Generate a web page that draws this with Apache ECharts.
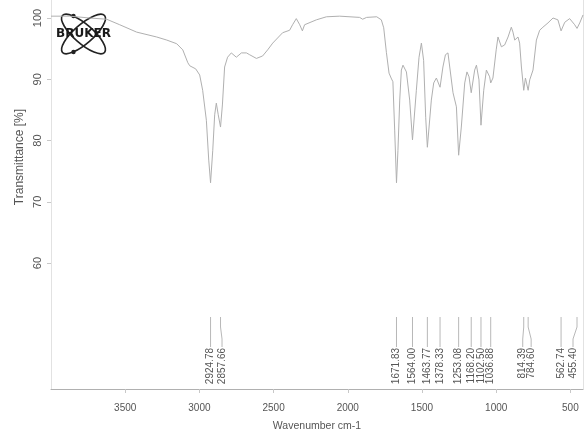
<!DOCTYPE html>
<html>
<head>
<meta charset="utf-8">
<script src="https://cdn.jsdelivr.net/npm/echarts@6/dist/echarts.min.js"></script>
<style>
  html, body { margin: 0; padding: 0; background: #fff; }
  #chart { width: 584px; height: 437px; }
</style>
</head>
<body>
<div id="chart"></div>
<script>
// IR spectrum: wavenumber (cm-1) vs transmittance (%)
const wavenumbers = [4000,3874,3739,3625,3537,3423,3288,3220,3153,3112,3078,3065,3025,2998,2978,2953,2937,2924.78,2910,2897,2886,2873,2857.66,2845,2830,2810,2785,2751,2717,2683,2661,2616,2574,2540,2506,2439,2392,2372,2347,2324,2306,2291,2212,2144,2055,1920,1900,1873,1805,1774,1758,1740,1722,1708,1696,1684,1671.83,1662,1650,1639,1628,1605,1583,1564,1538,1520,1504,1489,1475,1463.77,1437,1421,1403,1378.33,1359,1342,1325,1313,1291,1268,1253.08,1235,1212,1197,1183,1168.2,1145,1133,1116,1102.5,1084,1066,1044,1036.88,1022,1000,988,965,943,920,898,887,875,853,842,830,814.39,803,797,784.6,774,752,729,707,685,651,617,606,584,562.74,538,505,471,455.4,437,415];
const transmittance = [100.3,100.3,100.0,99.8,98.9,97.7,96.9,96.4,95.8,94.8,92.7,92.2,91.7,90.7,88.2,83.3,76.8,73.1,78.4,84.2,86.1,84.2,82.2,85.8,92.0,93.6,94.3,93.6,94.3,94.3,94.0,93.4,93.8,94.8,95.9,97.6,98.0,98.9,99.9,98.9,97.9,98.9,99.7,100.2,100.3,100.1,99.8,100.1,100.2,99.7,98.4,94.4,91.0,90.2,89.6,81.7,73.1,78.4,86.6,91.5,92.3,91.2,86.6,80.1,88.2,93.6,95.9,93.1,83.8,78.9,86.6,89.4,90.2,88.7,92.0,94.0,94.3,92.0,87.8,85.5,77.6,82.2,89.4,91.2,90.4,87.8,91.5,92.3,89.9,82.5,88.2,91.5,90.4,89.4,90.2,94.8,96.9,95.3,95.6,96.9,98.5,97.7,96.4,96.9,95.9,92.0,88.2,90.2,90.4,88.2,89.9,91.5,96.4,98.0,98.5,99.2,100.0,100.2,99.7,97.9,99.3,99.9,98.9,98.3,99.2,100.5];

// Picked peak positions (cm-1)
const peakPositions = [2924.78,2857.66,1671.83,1564.00,1463.77,1378.33,1253.08,1168.20,1102.50,1036.88,814.39,784.60,562.74,455.40];

// Axis ticks
const xTicks = [500,1000,1500,2000,2500,3000,3500];
const yTicks = [60,70,80,90,100];

// Horizontal label offsets (px) so crowded peak labels do not collide
const labelShift = { 1: 1.5, 10: -1, 11: 3, 13: -4 };

const X_MIN = 415, X_MAX = 4000;
const Y_MIN = 39.43, Y_MAX = 102.94;

const chart = echarts.init(document.getElementById('chart'), null, { renderer: 'canvas' });

const spectrum = wavenumbers.map((w, i) => [w, transmittance[i]]);
const peaks = peakPositions.map((w, i) => [w, i]);

const textColor = '#555';
const font = 'Liberation Sans, Arial, sans-serif';

chart.setOption({
  animation: false,
  backgroundColor: '#fff',
  grid: { left: 51, right: 1, top: 0, bottom: 48 },
  xAxis: {
    type: 'value',
    min: X_MIN,
    max: X_MAX,
    inverse: true,
    name: 'Wavenumber cm-1',
    nameLocation: 'middle',
    nameGap: 32,
    nameTextStyle: { fontFamily: font, fontSize: 10.5, color: textColor },
    axisLine: { show: true, lineStyle: { color: '#b0b0b0', width: 1 } },
    axisTick: { show: true, length: 4, customValues: xTicks, lineStyle: { color: '#c8c8c8' } },
    axisLabel: { customValues: xTicks, margin: 14, fontFamily: font, fontSize: 10, color: textColor, formatter: v => String(v) },
    splitLine: { show: false }
  },
  yAxis: [{
    type: 'value',
    min: Y_MIN,
    max: Y_MAX,
    axisLine: { show: true, lineStyle: { color: '#e2e2e2', width: 1 } },
    axisTick: { show: true, length: 4, customValues: yTicks, lineStyle: { color: '#c8c8c8' } },
    axisLabel: { customValues: yTicks, rotate: 90, margin: 8, fontFamily: font, fontSize: 11, color: textColor, formatter: v => String(v) },
    splitLine: { show: false }
  }, {
    type: 'value',
    position: 'right',
    min: Y_MIN,
    max: Y_MAX,
    axisLine: { show: true, lineStyle: { color: '#e2e2e2', width: 1 } },
    axisTick: { show: false },
    axisLabel: { show: false },
    splitLine: { show: false }
  }],
  series: [{
    type: 'line',
    data: spectrum,
    showSymbol: false,
    lineStyle: { color: '#b0b0b0', width: 1 },
    silent: true
  }, {
    // peak markers with rotated wavenumber labels along the bottom
    type: 'custom',
    data: peaks,
    silent: true,
    renderItem: (params, api) => {
      const w = api.value(0);
      const i = api.value(1);
      const cs = params.coordSys;
      const bottom = cs.y + cs.height;
      const x = api.coord([w, Y_MIN])[0];
      const lx = x + (labelShift[i] || 0);
      const y0 = bottom - 72, y1 = bottom - 62, y2 = bottom - 50, y3 = bottom - 42;
      return {
        type: 'group',
        children: [{
          type: 'polyline',
          shape: { points: [[x, y0], [x, y1], [lx, y2], [lx, y3]] },
          style: { stroke: '#b8b8b8', lineWidth: 1, fill: null }
        }, {
          type: 'text',
          x: lx,
          y: bottom - 41,
          rotation: Math.PI / 2,
          style: {
            text: w.toFixed(2),
            fontFamily: font,
            fontSize: 10,
            fill: textColor,
            align: 'right',
            verticalAlign: 'middle'
          }
        }]
      };
    }
  }],
  graphic: [
    {
      type: 'text',
      x: 20,
      y: 157,
      rotation: Math.PI / 2,
      style: {
        text: 'Transmittance [%]',
        fontFamily: font,
        fontSize: 12,
        fill: textColor,
        align: 'center',
        verticalAlign: 'middle'
      }
    },
    // BRUKER logo
    {
      type: 'group',
      x: 83.5,
      y: 34,
      children: [
        { type: 'ellipse', rotation: -0.72, shape: { cx: 0, cy: 0, rx: 28, ry: 9.5 }, style: { fill: null, stroke: '#222', lineWidth: 1.6 } },
        { type: 'ellipse', rotation: 0.72, shape: { cx: 0, cy: 0, rx: 28, ry: 9.5 }, style: { fill: null, stroke: '#222', lineWidth: 1.6 } },
        { type: 'circle', shape: { cx: -10, cy: -18, r: 2.2 }, style: { fill: '#222' } },
        { type: 'circle', shape: { cx: -10, cy: 18, r: 2.2 }, style: { fill: '#222' } },
        { type: 'text', x: 0, y: 0, style: { text: 'BRUKER', fontFamily: 'DejaVu Sans, sans-serif', fontWeight: 'bold', fontSize: 12, fill: '#1a1a1a', align: 'center', verticalAlign: 'middle' } }
      ]
    }
  ]
});
</script>
</body>
</html>
